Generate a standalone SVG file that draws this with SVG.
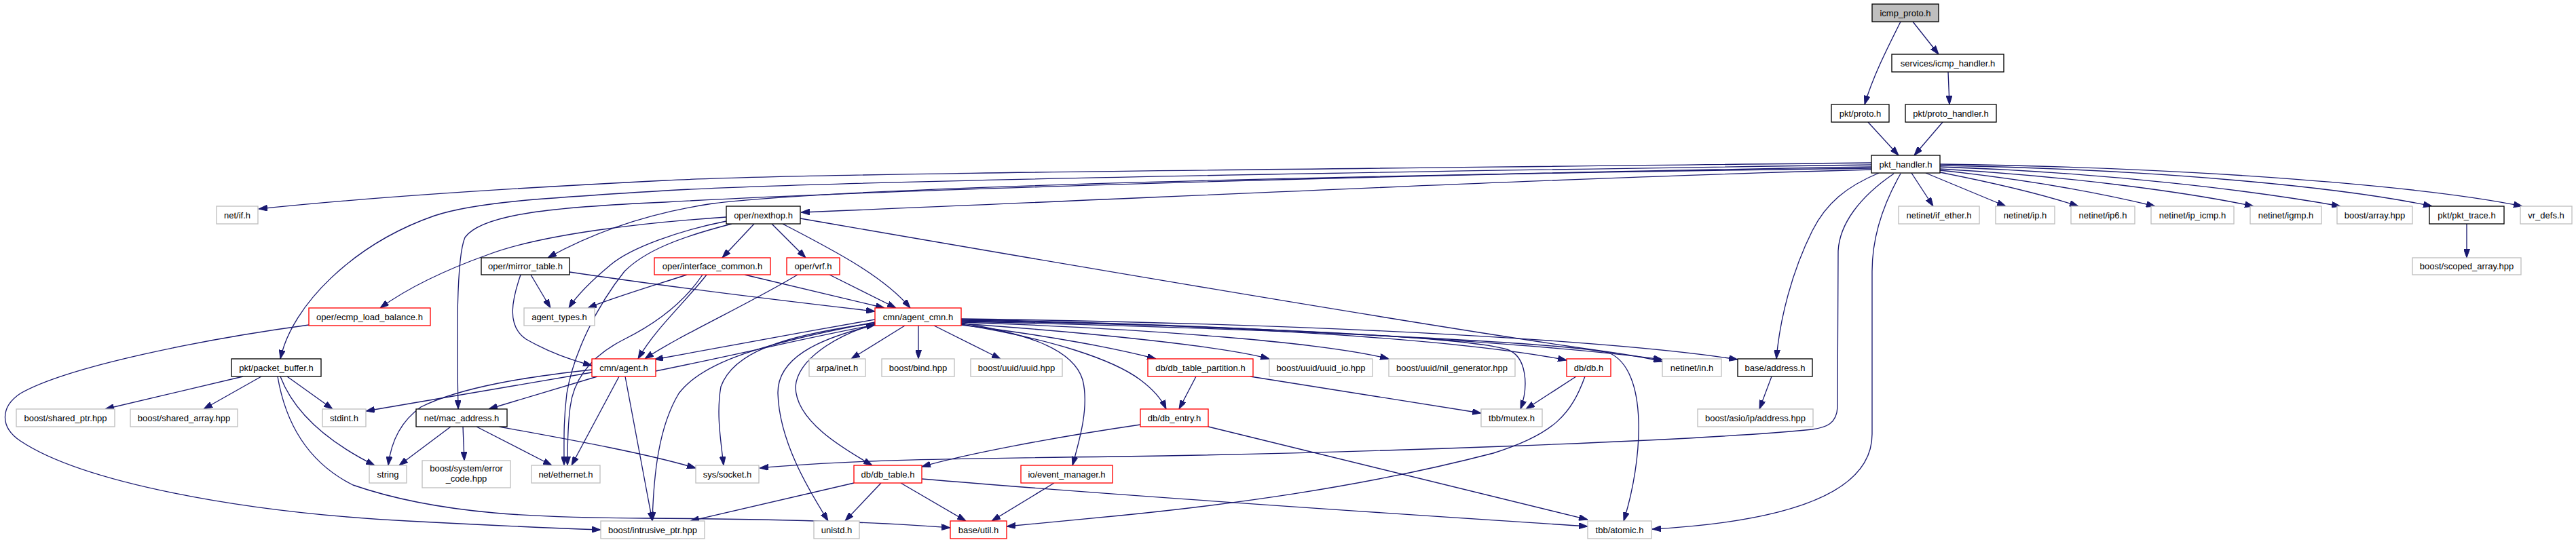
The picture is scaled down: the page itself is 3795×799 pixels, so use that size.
<svg xmlns="http://www.w3.org/2000/svg" width="3795" height="799" viewBox="0 0 3795 799">
<style>
.n rect{fill:#fff;stroke-width:1.33}
.int rect{stroke:#000}
.leaf rect{stroke:#bfbfbf}
.trunc rect{stroke:#ff0000}
.root rect{fill:#bfbfbf;stroke:#000}
.n text{font-family:"Liberation Sans",Arial,Helvetica,sans-serif;font-size:13px;text-anchor:middle;fill:#000}
#edges path{fill:none;stroke:#191970;stroke-width:1.33;marker-end:url(#ah)}
</style>
<defs>
<marker id="ah" viewBox="0 0 13 9" refX="13" refY="4.5" markerWidth="13" markerHeight="9" markerUnits="userSpaceOnUse" orient="auto">
<path d="M0,0 L13,4.5 L0,9 z" fill="#191970" stroke="#191970" stroke-width="1"/>
</marker>
</defs>
<rect width="3795" height="799" fill="#fff"/>
<g id="edges">
<path d="M2800,32 C2785,62 2760,110 2747,154"/>
<path d="M2818,32 L2856,80"/>
<path d="M2870,106 L2872,154"/>
<path d="M2752,180 L2797,229"/>
<path d="M2862,180 L2820,229"/>
<path d="M2757,240 C1900,250 1200,255 980,266 C800,275 550,290 381,308"/>
<path d="M2757,243 C1900,255 1200,268 980,281 C800,292 700,298 640,318 C520,360 430,450 413,529"/>
<path d="M2757,246 C1900,260 1200,285 980,298 C820,305 710,315 685,350 C672,380 673,500 675,603"/>
<path d="M2757,248 C2000,258 1250,275 1050,300 C950,315 870,345 807,380"/>
<path d="M2757,250 C2300,262 1700,292 1180,313"/>
<path d="M2768,255 C2720,275 2690,300 2670,340 C2640,400 2622,470 2617,529"/>
<path d="M2790,256 C2740,290 2710,330 2708,370 L2707,600 C2706,625 2690,630 2670,633 C2500,650 2000,668 1650,673 C1400,676 1250,678 1119,690"/>
<path d="M2800,256 C2775,300 2758,350 2758,400 L2758,640 C2758,700 2700,765 2434,780"/>
<path d="M2816,255 L2848,304"/>
<path d="M2837,255 L2955,304"/>
<path d="M2858,254 C2950,272 3020,290 3062,304"/>
<path d="M2858,251 C3000,266 3100,286 3175,304"/>
<path d="M2858,249 C3050,260 3220,283 3320,304"/>
<path d="M2858,246 C3100,254 3320,281 3448,304"/>
<path d="M2858,244 C3200,250 3460,278 3583,304"/>
<path d="M2858,242 C3250,247 3580,276 3716,304"/>
<path d="M1111,330 L1064,380"/>
<path d="M1137,330 L1187,380"/>
<path d="M1153,330 C1220,365 1300,405 1341,454"/>
<path d="M1070,320 C950,328 800,345 720,375 C650,400 600,425 560,454"/>
<path d="M1070,326 C1000,340 930,365 900,390 C870,415 850,435 838,454"/>
<path d="M1078,330 C1000,350 950,370 920,400 C880,450 845,520 835,580 C830,620 831,650 831,686"/>
<path d="M1179,322 C1600,395 2100,480 2350,516 C2400,523 2430,528 2449,533"/>
<path d="M782,405 L811,454"/>
<path d="M767,405 C755,440 745,480 775,500 C810,520 840,530 872,539"/>
<path d="M839,401 C1000,425 1150,443 1289,459"/>
<path d="M1012,405 C950,425 900,440 866,454"/>
<path d="M1041,405 C1010,445 965,485 940,529"/>
<path d="M1035,405 C1005,450 960,480 920,500 C870,525 845,560 840,600 C836,630 836,660 836,686"/>
<path d="M1097,405 L1303,454"/>
<path d="M1222,405 L1320,454"/>
<path d="M1175,405 C1100,450 1000,495 950,529"/>
<path d="M455,479 C300,500 100,540 30,580 C0,600 0,630 30,650 C120,710 350,755 600,768 C750,776 830,779 885,781"/>
<path d="M358,555 L155,603"/>
<path d="M385,555 L300,603"/>
<path d="M423,555 L490,603"/>
<path d="M413,555 C430,600 470,645 552,686"/>
<path d="M409,555 C420,620 450,680 520,715 C650,760 800,763 950,764 C1150,765 1300,770 1400,778"/>
<path d="M872,549 L539,606"/>
<path d="M872,545 C780,555 680,570 620,600 C585,625 575,660 572,686"/>
<path d="M880,555 L720,603"/>
<path d="M912,555 L842,686"/>
<path d="M921,555 L961,768"/>
<path d="M966,547 C1100,520 1200,495 1289,479"/>
<path d="M1289,471 C1180,490 1060,512 964,530"/>
<path d="M1333,480 L1254,529"/>
<path d="M1353,480 L1353,529"/>
<path d="M1376,480 L1474,529"/>
<path d="M1290,477 C1230,495 1175,530 1172,570 C1172,620 1240,660 1285,686"/>
<path d="M1290,479 C1200,500 1145,530 1146,580 C1148,650 1190,720 1220,768"/>
<path d="M1290,476 C1150,495 1080,520 1062,570 C1055,610 1062,650 1066,686"/>
<path d="M1289,475 C1100,510 1030,540 1000,580 C970,630 963,700 961,768"/>
<path d="M1416,476 C1500,490 1580,510 1595,560 C1605,600 1590,650 1580,686"/>
<path d="M1416,478 C1550,500 1640,530 1680,560 C1700,575 1712,590 1718,603"/>
<path d="M1416,479 C1550,495 1650,515 1703,529"/>
<path d="M1416,477 C1600,490 1800,510 1870,529"/>
<path d="M1416,475 C1700,485 1950,505 2046,529"/>
<path d="M1416,473 C1800,480 2150,495 2220,515 C2250,525 2252,570 2240,603"/>
<path d="M1416,472 C1800,478 2150,500 2308,531"/>
<path d="M1416,471 C1900,480 2300,510 2449,530"/>
<path d="M1416,470 C2000,478 2400,505 2560,530"/>
<path d="M1416,474 C1900,485 2300,505 2370,520 C2430,545 2420,680 2392,768"/>
<path d="M1762,555 L1737,603"/>
<path d="M1842,555 L2182,609"/>
<path d="M2322,555 L2248,603"/>
<path d="M2335,555 C2315,610 2290,640 2200,668 C2000,720 1800,745 1650,760 C1580,767 1530,772 1483,776"/>
<path d="M1680,626 C1550,645 1420,670 1358,688"/>
<path d="M1780,629 L2339,766"/>
<path d="M1258,712 L1017,768"/>
<path d="M1298,712 L1245,768"/>
<path d="M1327,712 L1423,768"/>
<path d="M1358,706 C1700,735 2100,760 2339,776"/>
<path d="M1553,712 L1461,768"/>
<path d="M664,629 L588,686"/>
<path d="M682,629 L684,679"/>
<path d="M702,629 L813,686"/>
<path d="M735,629 C850,650 950,668 1025,690"/>
<path d="M2610,555 L2592,603"/>
<path d="M3634,330 L3634,380"/>
</g>
<g id="node-icmp_proto" class="n root"><rect x="2758" y="6" width="98" height="26"/><text x="2807" y="23.5">icmp_proto.h</text></g>
<g id="node-services_icmp_handler" class="n int"><rect x="2787" y="80" width="165" height="26"/><text x="2869.5" y="97.5">services/icmp_handler.h</text></g>
<g id="node-pkt_proto" class="n int"><rect x="2698" y="154" width="85" height="26"/><text x="2740.5" y="171.5">pkt/proto.h</text></g>
<g id="node-pkt_proto_handler" class="n int"><rect x="2807" y="154" width="134" height="26"/><text x="2874" y="171.5">pkt/proto_handler.h</text></g>
<g id="node-pkt_handler" class="n int"><rect x="2757" y="229" width="101" height="26"/><text x="2807.5" y="246.5">pkt_handler.h</text></g>
<g id="node-net_if" class="n leaf"><rect x="319" y="304" width="61" height="26"/><text x="349.5" y="321.5">net/if.h</text></g>
<g id="node-oper_nexthop" class="n int"><rect x="1070" y="304" width="109" height="26"/><text x="1124.5" y="321.5">oper/nexthop.h</text></g>
<g id="node-netinet_if_ether" class="n leaf"><rect x="2797" y="304" width="119" height="26"/><text x="2856.5" y="321.5">netinet/if_ether.h</text></g>
<g id="node-netinet_ip" class="n leaf"><rect x="2940" y="304" width="87" height="26"/><text x="2983.5" y="321.5">netinet/ip.h</text></g>
<g id="node-netinet_ip6" class="n leaf"><rect x="3051" y="304" width="94" height="26"/><text x="3098" y="321.5">netinet/ip6.h</text></g>
<g id="node-netinet_ip_icmp" class="n leaf"><rect x="3169" y="304" width="122" height="26"/><text x="3230" y="321.5">netinet/ip_icmp.h</text></g>
<g id="node-netinet_igmp" class="n leaf"><rect x="3315" y="304" width="105" height="26"/><text x="3367.5" y="321.5">netinet/igmp.h</text></g>
<g id="node-boost_array" class="n leaf"><rect x="3443" y="304" width="111" height="26"/><text x="3498.5" y="321.5">boost/array.hpp</text></g>
<g id="node-pkt_pkt_trace" class="n int"><rect x="3579" y="304" width="110" height="26"/><text x="3634" y="321.5">pkt/pkt_trace.h</text></g>
<g id="node-vr_defs" class="n leaf"><rect x="3713" y="304" width="76" height="26"/><text x="3751" y="321.5">vr_defs.h</text></g>
<g id="node-oper_mirror_table" class="n int"><rect x="709" y="380" width="130" height="25"/><text x="774" y="397">oper/mirror_table.h</text></g>
<g id="node-oper_interface_common" class="n trunc"><rect x="964" y="380" width="171" height="25"/><text x="1049.5" y="397">oper/interface_common.h</text></g>
<g id="node-oper_vrf" class="n trunc"><rect x="1159" y="380" width="78" height="25"/><text x="1198" y="397">oper/vrf.h</text></g>
<g id="node-boost_scoped_array" class="n leaf"><rect x="3554" y="380" width="160" height="25"/><text x="3634" y="397">boost/scoped_array.hpp</text></g>
<g id="node-oper_ecmp_load_balance" class="n trunc"><rect x="455" y="454" width="179" height="26"/><text x="544.5" y="471.5">oper/ecmp_load_balance.h</text></g>
<g id="node-agent_types" class="n leaf"><rect x="772" y="454" width="104" height="26"/><text x="824" y="471.5">agent_types.h</text></g>
<g id="node-cmn_agent_cmn" class="n trunc"><rect x="1289" y="454" width="127" height="26"/><text x="1352.5" y="471.5">cmn/agent_cmn.h</text></g>
<g id="node-pkt_packet_buffer" class="n int"><rect x="341" y="529" width="132" height="26"/><text x="407" y="546.5">pkt/packet_buffer.h</text></g>
<g id="node-cmn_agent" class="n trunc"><rect x="872" y="529" width="94" height="26"/><text x="919" y="546.5">cmn/agent.h</text></g>
<g id="node-arpa_inet" class="n leaf"><rect x="1192" y="529" width="83" height="26"/><text x="1233.5" y="546.5">arpa/inet.h</text></g>
<g id="node-boost_bind" class="n leaf"><rect x="1299" y="529" width="107" height="26"/><text x="1352.5" y="546.5">boost/bind.hpp</text></g>
<g id="node-boost_uuid_uuid" class="n leaf"><rect x="1430" y="529" width="135" height="26"/><text x="1497.5" y="546.5">boost/uuid/uuid.hpp</text></g>
<g id="node-db_db_table_partition" class="n trunc"><rect x="1691" y="529" width="155" height="26"/><text x="1768.5" y="546.5">db/db_table_partition.h</text></g>
<g id="node-boost_uuid_uuid_io" class="n leaf"><rect x="1870" y="529" width="152" height="26"/><text x="1946" y="546.5">boost/uuid/uuid_io.hpp</text></g>
<g id="node-boost_uuid_nil_generator" class="n leaf"><rect x="2046" y="529" width="186" height="26"/><text x="2139" y="546.5">boost/uuid/nil_generator.hpp</text></g>
<g id="node-db_db" class="n trunc"><rect x="2308" y="529" width="65" height="26"/><text x="2340.5" y="546.5">db/db.h</text></g>
<g id="node-netinet_in" class="n leaf"><rect x="2449" y="529" width="87" height="26"/><text x="2492.5" y="546.5">netinet/in.h</text></g>
<g id="node-base_address" class="n int"><rect x="2560" y="529" width="110" height="26"/><text x="2615" y="546.5">base/address.h</text></g>
<g id="node-boost_shared_ptr" class="n leaf"><rect x="24" y="603" width="145" height="26"/><text x="96.5" y="620.5">boost/shared_ptr.hpp</text></g>
<g id="node-boost_shared_array" class="n leaf"><rect x="192" y="603" width="158" height="26"/><text x="271" y="620.5">boost/shared_array.hpp</text></g>
<g id="node-stdint" class="n leaf"><rect x="475" y="603" width="64" height="26"/><text x="507" y="620.5">stdint.h</text></g>
<g id="node-net_mac_address" class="n int"><rect x="613" y="603" width="134" height="26"/><text x="680" y="620.5">net/mac_address.h</text></g>
<g id="node-db_db_entry" class="n trunc"><rect x="1680" y="603" width="100" height="26"/><text x="1730" y="620.5">db/db_entry.h</text></g>
<g id="node-tbb_mutex" class="n leaf"><rect x="2182" y="603" width="90" height="26"/><text x="2227" y="620.5">tbb/mutex.h</text></g>
<g id="node-boost_asio_ip_address" class="n leaf"><rect x="2501" y="603" width="170" height="26"/><text x="2586" y="620.5">boost/asio/ip/address.hpp</text></g>
<g id="node-string" class="n leaf"><rect x="544" y="686" width="55" height="26"/><text x="571.5" y="703.5">string</text></g>
<g id="node-boost_system_error_code" class="n leaf"><rect x="622" y="679" width="130" height="40"/><text x="687" y="695">boost/system/error</text><text x="687" y="710">_code.hpp</text></g>
<g id="node-net_ethernet" class="n leaf"><rect x="783" y="686" width="101" height="26"/><text x="833.5" y="703.5">net/ethernet.h</text></g>
<g id="node-sys_socket" class="n leaf"><rect x="1025" y="686" width="93" height="26"/><text x="1071.5" y="703.5">sys/socket.h</text></g>
<g id="node-db_db_table" class="n trunc"><rect x="1258" y="686" width="100" height="26"/><text x="1308" y="703.5">db/db_table.h</text></g>
<g id="node-io_event_manager" class="n trunc"><rect x="1504" y="686" width="135" height="26"/><text x="1571.5" y="703.5">io/event_manager.h</text></g>
<g id="node-boost_intrusive_ptr" class="n leaf"><rect x="885" y="768" width="153" height="26"/><text x="961.5" y="785.5">boost/intrusive_ptr.hpp</text></g>
<g id="node-unistd" class="n leaf"><rect x="1199" y="768" width="67" height="26"/><text x="1232.5" y="785.5">unistd.h</text></g>
<g id="node-base_util" class="n trunc"><rect x="1400" y="768" width="83" height="26"/><text x="1441.5" y="785.5">base/util.h</text></g>
<g id="node-tbb_atomic" class="n leaf"><rect x="2339" y="768" width="94" height="26"/><text x="2386" y="785.5">tbb/atomic.h</text></g>
</svg>
